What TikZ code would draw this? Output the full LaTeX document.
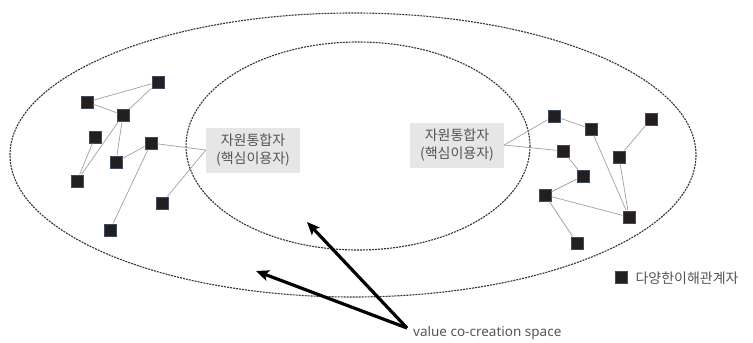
\documentclass[tikz,border=0pt]{standalone}
\usepackage{fontspec}
\setmainfont{Noto Sans}
\newfontfamily\kr{Noto Sans CJK KR}
\usetikzlibrary{arrows.meta}
\definecolor{boxgray}{RGB}{230,230,230}
\definecolor{txtgray}{RGB}{85,85,85}
\definecolor{sqblack}{RGB}{35,31,32}
\definecolor{sqedge}{RGB}{60,75,95}
\definecolor{linkgray}{RGB}{160,160,160}

\tikzset{
  actor/.style={rectangle, fill=sqblack, draw=sqedge, line width=0.5pt, minimum size=12.5pt, inner sep=0pt},
  integ/.style={rectangle, fill=boxgray, text=txtgray, minimum width=94pt, minimum height=45pt, align=center, font=\kr\fontsize{14}{18}\selectfont},
  link/.style={draw=linkgray, line width=0.7pt},
  space/.style={draw=black!80, line width=1.1pt, dash pattern=on 2pt off 1pt},
  bigarrow/.style={line width=3.2pt, -{Stealth[length=13pt, width=11pt, inset=3pt]}}
}

\begin{document}
\begin{tikzpicture}[x=1pt, y=-1pt]
\useasboundingbox (0,0) rectangle (753,343);

% value co-creation spaces
\draw[space] (353,155) ellipse [x radius=343, y radius=142];
\draw[space] (358,146) ellipse [x radius=172, y radius=104];

% resource integrators
\node[integ] (integL) at (253,150) {자원통합자\\(핵심이용자)};
\node[integ] (integR) at (457,145) {자원통합자\\(핵심이용자)};

% stakeholders, left
\node[actor] (la) at (158,82) {};
\node[actor] (lb) at (87,102) {};
\node[actor] (lc) at (123,115) {};
\node[actor] (ld) at (95,137) {};
\node[actor] (le) at (151,143) {};
\node[actor] (lf) at (116,162) {};
\node[actor] (lg) at (77,181) {};
\node[actor] (lh) at (162,203) {};
\node[actor] (li) at (110,230) {};

% stakeholders, right
\node[actor] (ra) at (554,116) {};
\node[actor] (rb) at (591,129) {};
\node[actor] (rc) at (651,119) {};
\node[actor] (rd) at (563,151) {};
\node[actor] (re) at (619,157) {};
\node[actor] (rf) at (583,176) {};
\node[actor] (rg) at (545,195) {};
\node[actor] (rh) at (629,217) {};
\node[actor] (ri) at (577,243) {};

% links
\draw[link] (lb) -- (la);
\draw[link] (lb) -- (lc);
\draw[link] (lc) -- (la);
\draw[link] (lc) -- (lf);
\draw[link] (lc) -- (lg);
\draw[link] (ld) -- (lg);
\draw[link] (lf) -- (le);
\draw[link] (le) -- (li);
\draw[link] (le) -- (integL.west);
\draw[link] (lh) -- (integL.west);

\draw[link] (integR.east) -- (ra);
\draw[link] (integR.east) -- (rd);
\draw[link] (ra) -- (rb);
\draw[link] (rb) -- (rh);
\draw[link] (rc) -- (re);
\draw[link] (re) -- (rh);
\draw[link] (rd) -- (rf);
\draw[link] (rf) -- (rg);
\draw[link] (rg) -- (rh);
\draw[link] (rg) -- (ri);

% legend
\node[actor] (legsq) at (621,277) {};
\node[anchor=west, text=txtgray, font=\kr\fontsize{14}{17}\selectfont] (legtxt) at (632,278) {다양한이해관계자};

% arrows
\node[anchor=west, text=txtgray, font=\fontsize{13.5}{16}\selectfont, inner sep=0pt] (vccs) at (413,333) {value co-creation space};
\coordinate (vorigin) at (407,328);
\coordinate (tipin) at (307,222);
\coordinate (tipout) at (256,271);
\draw[bigarrow] (vorigin) -- (tipin);
\draw[bigarrow] (vorigin) -- (tipout);
\end{tikzpicture}
\end{document}
